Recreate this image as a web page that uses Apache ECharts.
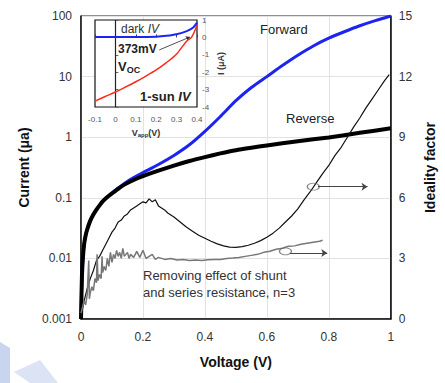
<!DOCTYPE html>
<html>
<head>
<meta charset="utf-8">
<script src="https://cdn.jsdelivr.net/npm/echarts@6/dist/echarts.min.js"></script>
<style>
html,body{margin:0;padding:0;background:#fff;}
#c{width:445px;height:383px;}
</style>
</head>
<body>
<div id="c"></div>
<script>
// ---- main chart: current vs voltage (log scale) ----
const forwardV = [0,0.003,0.006,0.01,0.015,0.02,0.03,0.04,0.05,0.06,0.07,0.085,0.1,0.12,0.14,0.17,0.2,0.25,0.3,0.35,0.4,0.45,0.5,0.55,0.6,0.65,0.7,0.75,0.8,0.85,0.9,0.95,1.0];
const forwardI = [0.001,0.005,0.01,0.017,0.024,0.03,0.042,0.053,0.064,0.075,0.087,0.103,0.12,0.145,0.173,0.215,0.26,0.355,0.5,0.75,1.25,2.2,4.0,6.6,10,15.2,22.5,32,43,55,69,84,100];
const reverseV = [0,0.003,0.006,0.01,0.015,0.02,0.03,0.04,0.05,0.06,0.07,0.085,0.1,0.12,0.14,0.17,0.2,0.25,0.3,0.35,0.4,0.45,0.5,0.55,0.6,0.7,0.8,0.9,1.0];
const reverseI = [0.001,0.005,0.01,0.017,0.024,0.03,0.042,0.053,0.064,0.075,0.087,0.103,0.118,0.141,0.165,0.197,0.228,0.28,0.34,0.405,0.47,0.54,0.61,0.67,0.73,0.86,0.99,1.18,1.4];
// ---- ideality factor (right axis) ----
const idealV = [0,0.01,0.02,0.03,0.04,0.05,0.06,0.07,0.08,0.09,0.1,0.11,0.12,0.13,0.14,0.15,0.16,0.17,0.18,0.19,0.2,0.21,0.22,0.23,0.24,0.25,0.26,0.27,0.28,0.3,0.32,0.34,0.36,0.38,0.4,0.42,0.44,0.46,0.48,0.5,0.52,0.54,0.56,0.58,0.6,0.62,0.64,0.66,0.68,0.7,0.72,0.74,0.76,0.78,0.8,0.82,0.84,0.86,0.88,0.9,0.92,0.94,0.96,0.98,0.995];
const idealN = [0.1,0.9,1.5,2.0,2.4,2.9,3.1,3.4,3.7,4.0,4.3,4.5,4.8,4.9,5.1,5.2,5.4,5.5,5.6,5.7,5.8,5.75,5.95,5.8,5.9,5.6,5.5,5.4,5.25,5.05,4.8,4.55,4.35,4.15,4.0,3.85,3.72,3.62,3.56,3.55,3.58,3.65,3.75,3.88,4.05,4.25,4.5,4.8,5.1,5.45,5.9,6.3,6.75,7.2,7.6,8.1,8.5,9.0,9.5,9.95,10.45,10.9,11.35,11.8,12.1];
const fitV = [0,0.005,0.01,0.015,0.02,0.025,0.027,0.03,0.035,0.04,0.045,0.05,0.052,0.055,0.06,0.065,0.068,0.07,0.075,0.08,0.085,0.09,0.095,0.1,0.105,0.11,0.115,0.12,0.125,0.13,0.135,0.14,0.15,0.155,0.16,0.17,0.18,0.19,0.2,0.21,0.22,0.23,0.24,0.25,0.27,0.29,0.31,0.33,0.35,0.37,0.39,0.41,0.43,0.45,0.47,0.49,0.51,0.53,0.55,0.57,0.59,0.61,0.63,0.65,0.67,0.69,0.71,0.73,0.75,0.77,0.78];
const fitN = [0.3,0.6,0.9,0.7,1.2,2.9,1.0,1.3,1.6,1.4,2.0,1.8,3.2,1.9,2.2,2.0,3.1,2.3,2.6,2.4,3.0,2.6,3.3,2.8,3.2,3.0,3.4,3.1,3.3,3.0,3.5,3.1,3.3,3.0,3.2,3.05,3.35,3.05,3.4,3.0,3.1,3.2,2.95,3.05,2.95,3.0,2.92,2.95,2.9,2.92,2.9,2.93,2.95,2.95,3.0,3.02,3.05,3.1,3.15,3.2,3.3,3.35,3.45,3.5,3.6,3.62,3.7,3.75,3.8,3.85,3.9];
// ---- inset: linear IV ----
const darkV = [-0.1,0,0.1,0.2,0.25,0.3,0.35,0.38,0.4];
const darkI = [0.02,0.02,0.02,0.04,0.09,0.18,0.36,0.55,0.85];
const sunV = [-0.1,-0.05,0,0.05,0.1,0.15,0.2,0.25,0.3,0.35,0.373,0.4];
const sunI = [-3.66,-3.4,-3.14,-2.85,-2.55,-2.22,-1.87,-1.45,-0.95,-0.2,0,0.7];

const pair = (xs, ys) => xs.map((x, i) => [x, ys[i]]);
const fmt = v => String(Number(Number(v).toPrecision(3)));
const FONT = 'Liberation Sans, Arial, sans-serif';

const chart = echarts.init(document.getElementById('c'), null, {renderer: 'svg'});
chart.setOption({
  backgroundColor: '#fff',
  animation: false,
  textStyle: {fontFamily: FONT},
  grid: [
    {left: 81, top: 16, right: 53, bottom: 64, show: true, borderColor: '#222', borderWidth: 1, z: 0},
    {left: 95, top: 20, width: 102, height: 87, show: true, backgroundColor: '#fff', borderColor: '#111', borderWidth: 1.2, z: 3}
  ],
  xAxis: [
    {gridIndex: 0, type: 'value', min: 0, max: 1, interval: 0.2,
     axisLine: {lineStyle: {color: '#111', width: 1.5}}, axisTick: {show: false},
     axisLabel: {fontSize: 12, color: '#333', margin: 12, formatter: fmt},
     splitLine: {show: true, lineStyle: {color: '#e2e2e2', width: 1}},
     name: 'Voltage (V)', nameLocation: 'middle', nameGap: 36,
     nameTextStyle: {fontSize: 14, fontWeight: 'bold', color: '#111'}},
    {gridIndex: 1, type: 'value', min: -0.1, max: 0.4, interval: 0.1, z: 4,
     axisLine: {show: false}, axisTick: {show: true, inside: true, length: 3, lineStyle: {color: '#444'}},
     axisLabel: {fontSize: 8, color: '#555', margin: 8, formatter: fmt},
     splitLine: {show: false},
     name: '{v|V}{s|app}{v|(V)}', nameLocation: 'middle', nameGap: 21,
     nameTextStyle: {rich: {v: {fontSize: 9, fontWeight: 'bold', color: '#333'}, s: {fontSize: 6, fontWeight: 'bold', color: '#333', verticalAlign: 'bottom', padding: [4, 0, 0, 0]}}}}
  ],
  yAxis: [
    {gridIndex: 0, type: 'log', logBase: 10, min: 0.001, max: 100,
     axisLine: {show: true, lineStyle: {color: '#111', width: 1.5}}, axisTick: {show: false},
     axisLabel: {fontSize: 12, color: '#333', margin: 9, formatter: fmt},
     splitLine: {show: true, lineStyle: {color: '#e2e2e2', width: 1}},
     name: 'Current (\u03bca)', nameLocation: 'middle', nameGap: 49, nameRotate: 90,
     nameTextStyle: {fontSize: 14, fontWeight: 'bold', color: '#111'}},
    {gridIndex: 0, type: 'value', position: 'right', min: 0, max: 15, interval: 3,
     axisLine: {show: true, lineStyle: {color: '#111', width: 1.5}}, axisTick: {show: false},
     axisLabel: {fontSize: 12, color: '#333', margin: 8},
     splitLine: {show: false},
     name: 'Ideality factor', nameLocation: 'middle', nameGap: 31, nameRotate: 90,
     nameTextStyle: {fontSize: 14, fontWeight: 'bold', color: '#111'}},
    {gridIndex: 1, type: 'value', position: 'right', min: -4, max: 1, interval: 1, z: 4,
     axisLine: {show: false}, axisTick: {show: true, length: 3, lineStyle: {color: '#666'}},
     axisLabel: {fontSize: 8, color: '#555', margin: 5},
     splitLine: {show: false},
     name: 'I (\u03bcA)', nameLocation: 'middle', nameGap: 19, nameRotate: 90,
     nameTextStyle: {fontSize: 9, fontWeight: 'bold', color: '#333'}}
  ],
  series: [
    {name: 'Forward', type: 'line', xAxisIndex: 0, yAxisIndex: 0, data: pair(forwardV, forwardI),
     showSymbol: false, smooth: 0.2, lineStyle: {color: '#1c24f0', width: 3, join: 'round'}, z: 2},
    {name: 'Reverse', type: 'line', xAxisIndex: 0, yAxisIndex: 0, data: pair(reverseV, reverseI),
     showSymbol: false, smooth: 0.2, lineStyle: {color: '#000', width: 4, join: 'round'}, z: 2},
    {name: 'Ideality', type: 'line', xAxisIndex: 0, yAxisIndex: 1, data: pair(idealV, idealN),
     showSymbol: false, lineStyle: {color: '#111', width: 1.2}, z: 2,
     markLine: {silent: true, symbol: ['none', 'arrow'], symbolSize: 6, label: {show: false},
       lineStyle: {color: '#444', width: 1, type: 'solid'},
       data: [[{coord: [0.765, 6.55]}, {coord: [0.925, 6.55]}]]}},
    {name: 'Fit n=3', type: 'line', xAxisIndex: 0, yAxisIndex: 1, data: pair(fitV, fitN),
     showSymbol: false, lineStyle: {color: '#777', width: 1.5}, z: 2,
     markLine: {silent: true, symbol: ['none', 'arrow'], symbolSize: 6, label: {show: false},
       lineStyle: {color: '#444', width: 1, type: 'solid'},
       data: [[{coord: [0.675, 3.27]}, {coord: [0.795, 3.27]}]]}},
    {name: 'markers', type: 'scatter', xAxisIndex: 0, yAxisIndex: 1,
     data: [[0.75, 6.55], [0.66, 3.35]], symbol: 'circle', symbolSize: [12, 7],
     itemStyle: {color: 'rgba(255,255,255,0)', borderColor: '#666', borderWidth: 1}, z: 3},
    {name: 'dark IV', type: 'line', xAxisIndex: 1, yAxisIndex: 2, data: pair(darkV, darkI),
     showSymbol: false, smooth: 0.3, lineStyle: {color: '#1c24f0', width: 2}, z: 5,
     markLine: {silent: true, symbol: ['none', 'none'], label: {show: false},
       lineStyle: {color: '#222', width: 1.2, type: 'solid'}, data: [{xAxis: 0}]}},
    {name: '1-sun IV', type: 'line', xAxisIndex: 1, yAxisIndex: 2, data: pair(sunV, sunI),
     showSymbol: false, smooth: 0.3, lineStyle: {color: '#ff2a1a', width: 1.5}, z: 5,
     markLine: {silent: true, symbol: ['none', 'arrow'], symbolSize: 4, label: {show: false},
       lineStyle: {color: '#222', width: 0.8, type: 'solid'},
       data: [[{coord: [0.215, -0.72]}, {coord: [0.365, 0.02]}]]}}
  ],
  graphic: [
    {type: 'text', left: 260, top: 23, z: 100, style: {text: 'Forward', font: '13px ' + FONT, fill: '#222'}},
    {type: 'text', left: 286, top: 112, z: 100, style: {text: 'Reverse', font: '13px ' + FONT, fill: '#222'}},
    {type: 'text', left: 143, top: 267, z: 100, style: {text: 'Removing effect of shunt\nand series resistance, n=3', font: '13px ' + FONT, fill: '#333', lineHeight: 17}},
    {type: 'text', left: 121, top: 23, z: 100, style: {text: 'dark {i|IV}', font: '12px ' + FONT, fill: '#333',
      rich: {i: {fontStyle: 'italic', fontSize: 12, fill: '#333'}}}},
    {type: 'text', left: 118, top: 43, z: 100, style: {text: '373mV', font: 'bold 12px ' + FONT, fill: '#222'}},
    {type: 'text', left: 118, top: 60, z: 100, style: {text: '{v|V}{s|OC}', fill: '#222',
      rich: {v: {fontSize: 13, fontWeight: 'bold', fill: '#222'}, s: {fontSize: 9, fontWeight: 'bold', fill: '#222', padding: [6, 0, 0, 0]}}}},
    {type: 'text', left: 140, top: 90, z: 100, style: {text: '1-sun {i|IV}', font: 'bold 13px ' + FONT, fill: '#222',
      rich: {i: {fontStyle: 'italic', fontWeight: 'bold', fontSize: 13, fill: '#222'}}}},
    {type: 'polygon', z: 100, shape: {points: [[0, 342], [10, 348], [10, 383], [0, 383]]}, style: {fill: '#c9d5ef'}},
    {type: 'polygon', z: 100, shape: {points: [[14, 372], [40, 360], [58, 383], [30, 383]]}, style: {fill: '#dbe3f5'}}
  ]
});
</script>
</body>
</html>
